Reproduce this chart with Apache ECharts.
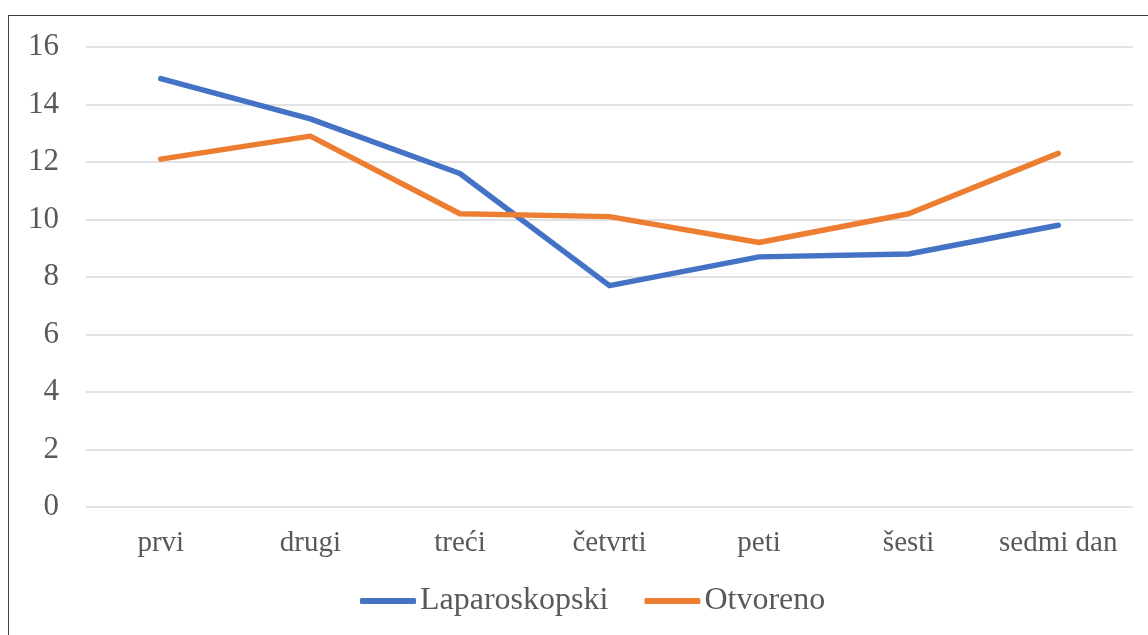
<!DOCTYPE html>
<html>
<head>
<meta charset="utf-8">
<script src="https://cdn.jsdelivr.net/npm/echarts@6/dist/echarts.min.js"></script>
<style>
html,body{margin:0;padding:0;background:#fff;overflow:hidden;}
#frame{position:absolute;left:8px;top:15px;width:1160px;height:640px;border-left:1.5px solid #404040;border-top:1.5px solid #404040;box-sizing:border-box;}
#chart{position:absolute;left:0;top:0;width:1148px;height:635px;}
</style>
</head>
<body>
<div id="frame"></div>
<div id="chart"></div>
<script>
const categories = ['prvi', 'drugi', 'treći', 'četvrti', 'peti', 'šesti', 'sedmi dan'];
const laparoskopski = [14.9, 13.5, 11.6, 7.7, 8.7, 8.8, 9.8];
const otvoreno = [12.1, 12.9, 10.2, 10.1, 9.2, 10.2, 12.3];
const seriesNames = ['Laparoskopski', 'Otvoreno'];
const yTicks = {min: 0, max: 16, interval: 2};

const font = 'Liberation Serif, Times New Roman, serif';
const chart = echarts.init(document.getElementById('chart'));
chart.setOption({
  animation: false,
  backgroundColor: 'transparent',
  grid: {left: 86, right: 15, top: 47, bottom: 128, containLabel: false},
  xAxis: {
    type: 'category',
    data: categories,
    boundaryGap: true,
    axisLine: {show: false},
    axisTick: {show: false},
    axisLabel: {color: '#595959', fontFamily: font, fontSize: 29, margin: 22, interval: 0, hideOverlap: false}
  },
  yAxis: {
    type: 'value',
    min: yTicks.min, max: yTicks.max, interval: yTicks.interval,
    axisLine: {show: false},
    axisTick: {show: false},
    axisLabel: {color: '#595959', fontFamily: font, fontSize: 31, margin: 27},
    splitLine: {lineStyle: {color: '#d9d9d9', width: 1.5}}
  },
  legend: {
    bottom: 13,
    left: 355,
    itemWidth: 56,
    itemHeight: 6,
    itemGap: 36,
    icon: 'roundRect',
    textStyle: {color: '#595959', fontFamily: font, fontSize: 32, padding: [0, 0, 0, -1]},
    data: seriesNames
  },
  series: [
    {name: seriesNames[0], type: 'line', data: laparoskopski, symbol: 'none',
     color: '#4472C4', lineStyle: {width: 5.5, color: '#4472C4', cap: 'round', join: 'round'}},
    {name: seriesNames[1], type: 'line', data: otvoreno, symbol: 'none',
     color: '#ED7D31', lineStyle: {width: 5.5, color: '#ED7D31', cap: 'round', join: 'round'}}
  ]
});
</script>
</body>
</html>
